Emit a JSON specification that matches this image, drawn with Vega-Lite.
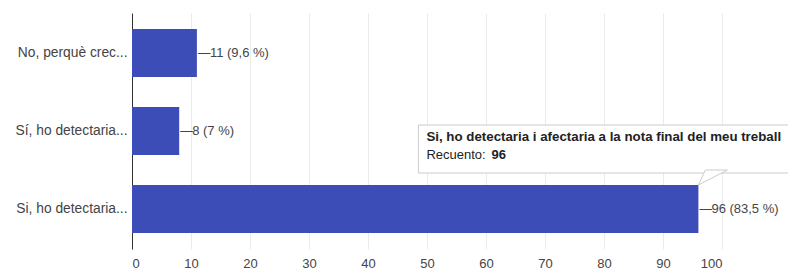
{
  "$schema": "https://vega.github.io/schema/vega-lite/v6.json",
  "width": 590,
  "height": 236,
  "autosize": {"type": "none"},
  "padding": {"left": 132, "top": 13, "right": 66, "bottom": 21},
  "background": "white",
  "config": {
    "view": {"stroke": null},
    "font": "Liberation Sans"
  },
  "datasets": {
    "bars": [
      {"resposta": "No, perquè crec...", "count": 11, "label": "11 (9,6 %)"},
      {"resposta": "Sí, ho detectaria...", "count": 8, "label": "8 (7 %)"},
      {"resposta": "Si, ho detectaria...", "count": 96, "label": "96 (83,5 %)"}
    ],
    "tip": [
      {"resposta": "Si, ho detectaria...", "count": 96, "title": "Si, ho detectaria i afectaria a la nota final del meu treball", "recuento": "96"}
    ]
  },
  "layer": [
    {
      "data": {"name": "bars"},
      "mark": {"type": "bar", "color": "#3d4db7"},
      "encoding": {
        "x": {
          "field": "count", "type": "quantitative",
          "scale": {"domain": [0, 100], "nice": false},
          "axis": {
            "values": [0, 10, 20, 30, 40, 50, 60, 70, 80, 90, 100],
            "title": null, "domain": false, "ticks": false,
            "grid": true, "gridColor": "#ebebeb", "gridWidth": 1,
            "labelFontSize": 13, "labelColor": "#444", "labelPadding": 8,
            "labelFont": "Liberation Sans"
          }
        },
        "y": {
          "field": "resposta", "type": "nominal", "sort": null,
          "scale": {"paddingInner": 0.385, "paddingOuter": 0.205},
          "axis": {
            "title": null, "ticks": false, "domain": true,
            "domainColor": "#333", "domainWidth": 1,
            "labelFontSize": 13.8, "labelColor": "#444", "labelPadding": 5,
            "labelFont": "Liberation Sans", "labelLimit": 200
          }
        }
      }
    },
    {
      "data": {"name": "bars"},
      "mark": {"type": "text", "align": "left", "baseline": "middle", "dx": 1, "fontSize": 12.5, "color": "#444"},
      "encoding": {
        "x": {"field": "count", "type": "quantitative"},
        "y": {"field": "resposta", "type": "nominal", "sort": null},
        "text": {"value": "—"}
      }
    },
    {
      "data": {"name": "bars"},
      "mark": {"type": "text", "align": "left", "baseline": "middle", "dx": 13, "fontSize": 13, "color": "#444"},
      "encoding": {
        "x": {"field": "count", "type": "quantitative"},
        "y": {"field": "resposta", "type": "nominal", "sort": null},
        "text": {"field": "label"}
      }
    },
    {
      "data": {"name": "tip"},
      "mark": {"type": "rect", "fill": "#ffffff", "stroke": "#cccccc", "strokeWidth": 1, "xOffset": -280, "x2Offset": 100, "yOffset": -60, "clip": false},
      "encoding": {
        "x": {"field": "count", "type": "quantitative"},
        "x2": {"field": "count"},
        "y": {"field": "resposta", "type": "nominal", "sort": null}
      }
    },
    {
      "data": {"name": "tip"},
      "mark": {"type": "point", "shape": "M0,0L0.233,-0.5L0.967,-0.5Z", "size": 3600, "filled": true, "fill": "#ffffff", "stroke": "#cccccc", "strokeWidth": 1, "opacity": 1, "yOffset": -24},
      "encoding": {
        "x": {"field": "count", "type": "quantitative"},
        "y": {"field": "resposta", "type": "nominal", "sort": null}
      }
    },
    {
      "data": {"name": "tip"},
      "mark": {"type": "text", "align": "left", "baseline": "middle", "dx": -272, "dy": -72, "fontSize": 13.3, "fontWeight": "bold", "color": "#222"},
      "encoding": {
        "x": {"field": "count", "type": "quantitative"},
        "y": {"field": "resposta", "type": "nominal", "sort": null},
        "text": {"field": "title"}
      }
    },
    {
      "data": {"name": "tip"},
      "mark": {"type": "text", "align": "left", "baseline": "middle", "dx": -272, "dy": -54, "fontSize": 13, "color": "#222"},
      "encoding": {
        "x": {"field": "count", "type": "quantitative"},
        "y": {"field": "resposta", "type": "nominal", "sort": null},
        "text": {"value": "Recuento:"}
      }
    },
    {
      "data": {"name": "tip"},
      "mark": {"type": "text", "align": "left", "baseline": "middle", "dx": -207, "dy": -54, "fontSize": 13, "fontWeight": "bold", "color": "#222"},
      "encoding": {
        "x": {"field": "count", "type": "quantitative"},
        "y": {"field": "resposta", "type": "nominal", "sort": null},
        "text": {"field": "recuento"}
      }
    }
  ]
}
